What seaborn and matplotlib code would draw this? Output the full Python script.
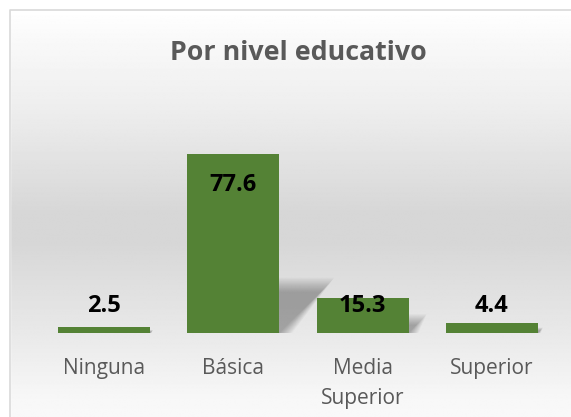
import numpy as np
import pandas as pd
import matplotlib
matplotlib.use("Agg")
import matplotlib.pyplot as plt
from matplotlib.patches import Rectangle, Polygon
import seaborn as sns

categories = ["Ninguna", "Básica", "Media\nSuperior", "Superior"]
values = [2.5, 77.6, 15.3, 4.4]
value_labels = ["2.5", "77.6", "15.3", "4.4"]
title = "Por nivel educativo"

sns.set_theme(style="white")
plt.rcParams['font.family'] = ['Open Sans', 'DejaVu Sans']

W, H, DPI = 571, 417, 100
fig = plt.figure(figsize=(W / DPI, H / DPI), dpi=DPI)

# background gradient
bg = fig.add_axes([0, 0, 1, 1], zorder=0)
bg.set_axis_off()
ys = np.linspace(0, H, 400)
stops_y = [0, 10, 40, 110, 215, 240, 330, 400, 417]
stops_v = [1.0, 1.0, 0.975, 0.93, 0.84, 0.84, 0.91, 0.97, 0.975]
vals = np.interp(ys, stops_y, stops_v)
img = np.repeat(vals[:, None], 2, axis=1)
bg.imshow(img, cmap="gray", vmin=0, vmax=1, aspect="auto",
          extent=[0, W, H, 0], interpolation="bilinear")
bg.set_xlim(0, W)
bg.set_ylim(H, 0)
bg.add_patch(Rectangle((0, 0), W, 9.5, color="white", zorder=2))
bg.add_patch(Rectangle((0, 0), 9.5, H, color="white", zorder=2))
bg.plot([9.5, 9.5, W + 5], [H + 5, 9.5, 9.5], color="#d9d9d9", lw=1.2, zorder=3)

# main axes
x_left, x_right = 39.5, 556.5
y_base, y_top = 333, 125
ax = fig.add_axes([x_left / W, (H - y_base) / H, (x_right - x_left) / W,
                   (y_base - y_top) / H], zorder=2)
ax.patch.set_alpha(0)

df = pd.DataFrame({"cat": categories, "val": values})
sns.barplot(data=df, x="cat", y="val", color="#548235", saturation=1,
            width=0.71, ax=ax, zorder=3, linewidth=0, edgecolor="none")
ax.set_ylim(0, 90)
ax.set_xlim(-0.5, len(categories) - 0.5)

# soft, blurred perspective shadows derived from each bar
bars = list(ax.patches)
for p in bars:
    x0 = p.get_x()
    w = p.get_width()
    h = p.get_height()
    sh = h * 0.23
    dx = h * 0.0042
    scale = min(1.0, h / 20.0)
    n = 12
    for k in range(n):
        ex = k * 0.009 * scale
        ey = k * 0.55 * scale
        poly = Polygon([(x0 + w * 0.3 - ex, 0), (x0 + w + ex, 0),
                        (x0 + w + dx + ex, sh + ey),
                        (x0 + w * 0.3 + dx - ex, sh + ey)],
                       closed=True, facecolor="black", alpha=0.028,
                       edgecolor="none", zorder=2)
        ax.add_patch(poly)

for s in ax.spines.values():
    s.set_visible(False)
ax.set_xlabel("")
ax.set_ylabel("")
ax.set_yticks([])
ax.tick_params(axis="x", length=0, pad=18, labelsize=15, labelcolor="#595959")
for t in ax.get_xticklabels():
    t.set_linespacing(1.55)

for i, (v, lab) in enumerate(zip(values, value_labels)):
    ly = max(v - 13.6, 11.7)
    ax.text(i, ly, lab, ha="center", va="center", fontsize=17,
            fontweight="bold", color="black", zorder=5)

fig.text(298 / W, 1 - 53 / H, title, ha="center", va="center",
         fontsize=19.3, fontweight="bold", color="#595959", zorder=5)

fig.savefig("out.png", dpi=DPI)
